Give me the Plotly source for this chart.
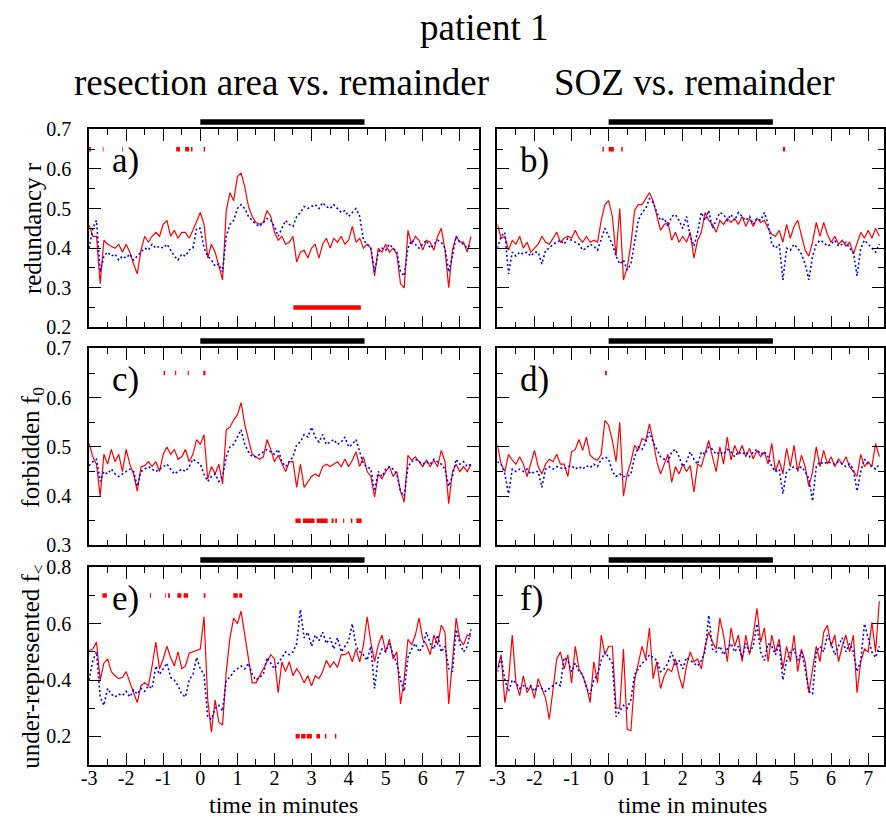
import numpy as np
import plotly.graph_objects as go

# ---------------- data ----------------
t = np.round(np.arange(-3.0, 7.35, 0.1), 1)  # time in minutes, 104 samples

a_red = [0.458, 0.43, 0.43, 0.31, 0.42, 0.41, 0.405, 0.40, 0.41, 0.39,
         0.41, 0.39, 0.36, 0.335, 0.395, 0.43, 0.415, 0.43, 0.44, 0.43,
         0.46, 0.47, 0.43, 0.445, 0.425, 0.44, 0.44, 0.425, 0.445, 0.47,
         0.49, 0.46, 0.375, 0.41, 0.39, 0.355, 0.32, 0.495, 0.54, 0.52,
         0.58, 0.59, 0.555, 0.505, 0.48, 0.465, 0.46, 0.465, 0.495, 0.48,
         0.44, 0.42, 0.43, 0.41, 0.415, 0.43, 0.365, 0.39, 0.395, 0.375,
         0.40, 0.41, 0.375, 0.41, 0.425, 0.40, 0.425, 0.415, 0.43, 0.41,
         0.42, 0.455, 0.415, 0.425, 0.40, 0.41, 0.40, 0.33, 0.40, 0.39,
         0.41, 0.39, 0.40, 0.385, 0.31, 0.30, 0.445, 0.41, 0.43, 0.42,
         0.395, 0.42, 0.415, 0.395, 0.43, 0.45, 0.395, 0.30, 0.395, 0.43,
         0.415, 0.415, 0.39, 0.43]
a_blue = [0.40, 0.45, 0.47, 0.34, 0.38, 0.39, 0.38, 0.385, 0.37, 0.38,
          0.375, 0.385, 0.37, 0.38, 0.39, 0.40, 0.395, 0.41, 0.40, 0.405,
          0.40, 0.41, 0.395, 0.38, 0.37, 0.385, 0.38, 0.395, 0.40, 0.45,
          0.45, 0.40, 0.38, 0.37, 0.355, 0.36, 0.34, 0.43, 0.46, 0.47,
          0.50, 0.51, 0.50, 0.48, 0.47, 0.46, 0.455, 0.465, 0.475, 0.47,
          0.455, 0.43, 0.45, 0.47, 0.46, 0.455, 0.48, 0.49, 0.505, 0.50,
          0.505, 0.51, 0.50, 0.515, 0.505, 0.50, 0.51, 0.50, 0.49, 0.495,
          0.48, 0.49, 0.50, 0.48, 0.42, 0.41, 0.40, 0.34, 0.39, 0.40,
          0.395, 0.41, 0.40, 0.39, 0.34, 0.33, 0.40, 0.42, 0.41, 0.40,
          0.41, 0.42, 0.40, 0.41, 0.42, 0.415, 0.40, 0.34, 0.38, 0.43,
          0.415, 0.41, 0.40, 0.41]

b_red = [0.46, 0.425, 0.43, 0.395, 0.42, 0.41, 0.43, 0.40, 0.415, 0.39,
         0.40, 0.41, 0.43, 0.415, 0.41, 0.425, 0.44, 0.415, 0.425, 0.43,
         0.425, 0.445, 0.425, 0.415, 0.43, 0.415, 0.42, 0.415, 0.47, 0.51,
         0.52, 0.48, 0.38, 0.50, 0.32, 0.35, 0.41, 0.495, 0.51, 0.51,
         0.525, 0.54, 0.52, 0.48, 0.445, 0.46, 0.465, 0.42, 0.44, 0.415,
         0.43, 0.415, 0.44, 0.375, 0.42, 0.44, 0.49, 0.47, 0.46, 0.44,
         0.47, 0.46, 0.475, 0.465, 0.475, 0.46, 0.48, 0.455, 0.475, 0.455,
         0.475, 0.465, 0.47, 0.45, 0.435, 0.43, 0.445, 0.415, 0.46, 0.425,
         0.455, 0.47, 0.435, 0.395, 0.38, 0.415, 0.465, 0.43, 0.465, 0.435,
         0.415, 0.43, 0.41, 0.42, 0.405, 0.415, 0.385, 0.41, 0.44, 0.425,
         0.445, 0.425, 0.45, 0.43]
b_blue = [0.40, 0.43, 0.44, 0.335, 0.39, 0.38, 0.39, 0.385, 0.39, 0.38,
          0.39, 0.39, 0.36, 0.395, 0.40, 0.41, 0.415, 0.42, 0.41, 0.425,
          0.42, 0.415, 0.41, 0.395, 0.40, 0.41, 0.405, 0.395, 0.42, 0.45,
          0.43, 0.41, 0.38, 0.36, 0.37, 0.345, 0.36, 0.42, 0.47, 0.49,
          0.50, 0.525, 0.515, 0.49, 0.47, 0.475, 0.455, 0.48, 0.485, 0.47,
          0.45, 0.48, 0.43, 0.405, 0.44, 0.49, 0.47, 0.495, 0.45, 0.47,
          0.49, 0.485, 0.47, 0.485, 0.47, 0.49, 0.48, 0.47, 0.48, 0.46,
          0.475, 0.47, 0.49, 0.46, 0.41, 0.40, 0.41, 0.32, 0.40, 0.395,
          0.41, 0.40, 0.385, 0.36, 0.32, 0.38, 0.41, 0.42, 0.415, 0.405,
          0.41, 0.42, 0.405, 0.41, 0.415, 0.40, 0.39, 0.33, 0.40, 0.42,
          0.41, 0.40, 0.39, 0.41]

c_red = [0.507, 0.48, 0.465, 0.40, 0.485, 0.465, 0.495, 0.47, 0.485, 0.45,
         0.495, 0.465, 0.445, 0.41, 0.46, 0.462, 0.47, 0.46, 0.47, 0.45,
         0.485, 0.50, 0.485, 0.495, 0.475, 0.48, 0.495, 0.47, 0.485, 0.515,
         0.505, 0.525, 0.435, 0.46, 0.445, 0.465, 0.425, 0.535, 0.54, 0.555,
         0.565, 0.59, 0.545, 0.515, 0.485, 0.48, 0.475, 0.48, 0.515, 0.495,
         0.47, 0.483, 0.465, 0.45, 0.47, 0.47, 0.418, 0.465, 0.418, 0.43,
         0.44, 0.445, 0.44, 0.46, 0.465, 0.46, 0.465, 0.47, 0.46, 0.475,
         0.46, 0.473, 0.49, 0.46, 0.48, 0.45, 0.44, 0.398, 0.445, 0.435,
         0.45, 0.46, 0.44, 0.45, 0.41, 0.388, 0.483, 0.473, 0.48, 0.47,
         0.46, 0.473, 0.46, 0.473, 0.46, 0.493, 0.47, 0.385, 0.45, 0.465,
         0.45, 0.46, 0.45, 0.465]
c_blue = [0.462, 0.47, 0.475, 0.43, 0.45, 0.445, 0.455, 0.445, 0.44, 0.445,
          0.45, 0.455, 0.45, 0.42, 0.45, 0.455, 0.46, 0.455, 0.45, 0.455,
          0.46, 0.465, 0.455, 0.445, 0.45, 0.455, 0.45, 0.46, 0.475, 0.47,
          0.465, 0.445, 0.43, 0.44, 0.445, 0.43, 0.44, 0.48, 0.50, 0.505,
          0.52, 0.535, 0.505, 0.49, 0.48, 0.48, 0.485, 0.49, 0.495, 0.49,
          0.485, 0.495, 0.47, 0.46, 0.47, 0.48, 0.505, 0.51, 0.525, 0.52,
          0.54, 0.52, 0.51, 0.525, 0.505, 0.51, 0.515, 0.505, 0.51, 0.52,
          0.50, 0.505, 0.515, 0.49, 0.465, 0.46, 0.455, 0.41, 0.45, 0.44,
          0.455, 0.46, 0.455, 0.445, 0.41, 0.40, 0.46, 0.47, 0.475, 0.47,
          0.465, 0.47, 0.465, 0.475, 0.47, 0.465, 0.455, 0.42, 0.44, 0.475,
          0.465, 0.47, 0.46, 0.465]

d_red = [0.503, 0.465, 0.45, 0.485, 0.473, 0.465, 0.48, 0.465, 0.44, 0.465,
         0.493, 0.46, 0.445, 0.465, 0.475, 0.47, 0.485, 0.465, 0.465, 0.44,
         0.49, 0.495, 0.515, 0.493, 0.52, 0.483, 0.476, 0.473, 0.485, 0.554,
         0.544, 0.513, 0.47, 0.55, 0.40, 0.445, 0.47, 0.503, 0.493, 0.517,
         0.513, 0.547, 0.513, 0.47, 0.445, 0.465, 0.485, 0.428, 0.46, 0.445,
         0.465, 0.45, 0.462, 0.408, 0.465, 0.46, 0.485, 0.513, 0.48, 0.45,
         0.50, 0.465, 0.52, 0.473, 0.503, 0.485, 0.503, 0.48, 0.497, 0.476,
         0.493, 0.48, 0.49, 0.465, 0.507, 0.45, 0.473, 0.445, 0.497, 0.46,
         0.503, 0.45, 0.483, 0.46, 0.42, 0.45, 0.50, 0.46, 0.493, 0.465,
         0.48, 0.46, 0.476, 0.465, 0.48, 0.46, 0.45, 0.44, 0.485, 0.46,
         0.47, 0.46, 0.507, 0.48]
d_blue = [0.47, 0.465, 0.445, 0.405, 0.455, 0.45, 0.455, 0.45, 0.455, 0.445,
          0.45, 0.45, 0.418, 0.455, 0.46, 0.455, 0.46, 0.458, 0.455, 0.46,
          0.462, 0.455, 0.46, 0.455, 0.462, 0.458, 0.465, 0.46, 0.475, 0.48,
          0.475, 0.45, 0.44, 0.445, 0.44, 0.44, 0.445, 0.48, 0.50, 0.495,
          0.51, 0.53, 0.51, 0.495, 0.48, 0.475, 0.47, 0.49, 0.495, 0.48,
          0.46, 0.47, 0.49, 0.475, 0.465, 0.49, 0.485, 0.50, 0.495, 0.485,
          0.49, 0.485, 0.495, 0.49, 0.48, 0.49, 0.485, 0.49, 0.48, 0.49,
          0.495, 0.485, 0.49, 0.48, 0.46, 0.45, 0.455, 0.405, 0.45, 0.455,
          0.46, 0.455, 0.46, 0.45, 0.435, 0.39, 0.46, 0.47, 0.465, 0.47,
          0.468, 0.465, 0.47, 0.465, 0.46, 0.465, 0.455, 0.41, 0.45, 0.475,
          0.465, 0.46, 0.455, 0.465]

e_red = [0.505, 0.51, 0.535, 0.40, 0.46, 0.475, 0.43, 0.415, 0.405, 0.41,
         0.43, 0.39, 0.355, 0.32, 0.38, 0.39, 0.38, 0.45, 0.535, 0.44,
         0.475, 0.52, 0.48, 0.45, 0.50, 0.44, 0.45, 0.495, 0.50, 0.505,
         0.51, 0.625, 0.33, 0.215, 0.33, 0.25, 0.24, 0.43, 0.55, 0.62,
         0.60, 0.645, 0.56, 0.47, 0.39, 0.39, 0.415, 0.44, 0.465, 0.49,
         0.475, 0.355, 0.465, 0.43, 0.465, 0.415, 0.44, 0.42, 0.39, 0.415,
         0.38, 0.415, 0.405, 0.43, 0.47, 0.445, 0.465, 0.445, 0.49, 0.49,
         0.50, 0.465, 0.51, 0.465, 0.525, 0.625, 0.535, 0.465, 0.525, 0.56,
         0.50, 0.545, 0.475, 0.50, 0.315, 0.405, 0.545, 0.525, 0.56, 0.62,
         0.545, 0.525, 0.49, 0.56, 0.525, 0.595, 0.57, 0.315, 0.465, 0.62,
         0.545, 0.525, 0.56, 0.555]
e_blue = [0.40, 0.47, 0.50, 0.34, 0.31, 0.37, 0.35, 0.34, 0.35, 0.345,
          0.36, 0.34, 0.365, 0.35, 0.37, 0.36, 0.38, 0.37, 0.45, 0.42,
          0.44, 0.46, 0.41, 0.40, 0.38, 0.35, 0.34, 0.40, 0.42, 0.48,
          0.44, 0.42, 0.27, 0.26, 0.30, 0.31, 0.29, 0.40, 0.41, 0.43,
          0.44, 0.45, 0.44, 0.46, 0.42, 0.40, 0.41, 0.42, 0.48, 0.46,
          0.44, 0.46, 0.48, 0.50, 0.49, 0.50, 0.53, 0.65, 0.55, 0.57,
          0.52, 0.56, 0.54, 0.57, 0.53, 0.55, 0.51, 0.55, 0.50, 0.52,
          0.54, 0.60, 0.52, 0.50, 0.49, 0.47, 0.52, 0.37, 0.48, 0.51,
          0.50, 0.53, 0.49, 0.46, 0.40, 0.36, 0.48, 0.51, 0.53, 0.50,
          0.52, 0.57, 0.53, 0.51, 0.56, 0.50, 0.52, 0.44, 0.43, 0.58,
          0.53, 0.50, 0.52, 0.58]

f_red = [0.44, 0.49, 0.32, 0.40, 0.56, 0.39, 0.345, 0.415, 0.355, 0.38,
         0.335, 0.405, 0.37, 0.335, 0.26, 0.37, 0.475, 0.50, 0.44, 0.49,
         0.39, 0.52, 0.44, 0.415, 0.38, 0.32, 0.465, 0.39, 0.56, 0.49,
         0.52, 0.52, 0.30, 0.30, 0.51, 0.225, 0.22, 0.40, 0.465, 0.52,
         0.475, 0.585, 0.405, 0.465, 0.37, 0.415, 0.44, 0.43, 0.475, 0.415,
         0.37, 0.45, 0.50, 0.465, 0.475, 0.44, 0.52, 0.57, 0.535, 0.51,
         0.62, 0.56, 0.465, 0.585, 0.52, 0.56, 0.465, 0.56, 0.49, 0.56,
         0.655, 0.535, 0.585, 0.465, 0.56, 0.50, 0.545, 0.44, 0.52, 0.465,
         0.56, 0.43, 0.51, 0.465, 0.355, 0.44, 0.52, 0.465, 0.57, 0.595,
         0.52, 0.56, 0.465, 0.52, 0.56, 0.50, 0.56, 0.355, 0.465, 0.51,
         0.50, 0.605, 0.50, 0.68]
f_blue = [0.43, 0.48, 0.40, 0.36, 0.40, 0.39, 0.37, 0.38, 0.37, 0.38,
          0.36, 0.38, 0.37, 0.36, 0.37, 0.38, 0.39, 0.38, 0.48, 0.47,
          0.43, 0.46, 0.43, 0.42, 0.37, 0.35, 0.40, 0.42, 0.47, 0.50,
          0.48, 0.46, 0.27, 0.29, 0.31, 0.30, 0.33, 0.42, 0.44, 0.46,
          0.47, 0.49, 0.48, 0.47, 0.43, 0.44, 0.46, 0.50, 0.45, 0.47,
          0.44, 0.48, 0.47, 0.46, 0.45, 0.47, 0.50, 0.63, 0.51, 0.50,
          0.52, 0.49, 0.51, 0.53, 0.50, 0.52, 0.48, 0.53, 0.50, 0.52,
          0.60, 0.50, 0.47, 0.53, 0.52, 0.49, 0.53, 0.40, 0.47, 0.50,
          0.51, 0.47, 0.50, 0.44, 0.36, 0.35, 0.50, 0.52, 0.50, 0.56,
          0.53, 0.49, 0.52, 0.55, 0.50, 0.53, 0.50, 0.43, 0.47, 0.60,
          0.55, 0.50, 0.48, 0.52]

# seizure period (black bar above each panel), in minutes
seizure = (0.0, 4.43)

# significance markers: (start, end) intervals in minutes and their level
sig_a_top = [(-3.0, -2.95), (-2.63, -2.61), (-2.11, -2.09), (-0.65, -0.55),
             (-0.41, -0.30), (-0.25, -0.21), (0.09, 0.13)]
sig_a_bot = [(2.51, 4.33)]
sig_b_top = [(-0.17, -0.13), (0.0, 0.14), (0.34, 0.38), (4.70, 4.76)]
sig_c_top = [(-0.99, -0.95), (-0.68, -0.65), (-0.34, -0.31), (0.08, 0.14)]
sig_c_bot = [(2.565, 2.707), (2.768, 3.08), (3.141, 3.435), (3.541, 3.595),
             (3.64, 3.685), (3.853, 3.88), (4.06, 4.10), (4.21, 4.35)]
sig_d_top = [(-0.10, -0.05)]
sig_e_top = [(-2.64, -2.52), (-1.36, -1.33), (-0.95, -0.93), (-0.87, -0.82),
             (-0.62, -0.51), (-0.45, -0.33), (0.09, 0.14), (0.89, 1.01), (1.05, 1.13)]
sig_e_bot = [(2.57, 2.68), (2.72, 2.84), (2.87, 3.01), (3.13, 3.23),
             (3.36, 3.40), (3.63, 3.67)]

panel_labels = ["a)", "b)", "c)", "d)", "e)", "f)"]
ytitles = ["redundancy r", "forbidden f<sub>0</sub>", "under-represented f<sub>&lt;</sub>"]
col_titles = ["resection area vs. remainder", "SOZ vs. remainder"]
main_title = "patient 1"
xtitle = "time in minutes"

x_ticks = [-3, -2, -1, 0, 1, 2, 3, 4, 5, 6, 7]
x_ticktext = ["-3", "-2", "-1", "0", "1", "2", "3", "4", "5", "6", "7"]
y_ranges = [[0.2, 0.7], [0.3, 0.7], [0.1, 0.8]]
y_ticks = [[0.2, 0.3, 0.4, 0.5, 0.6, 0.7], [0.3, 0.4, 0.5, 0.6, 0.7], [0.2, 0.4, 0.6, 0.8]]
y_ticktext = [["0.2", "0.3", "0.4", "0.5", "0.6", "0.7"],
              ["0.3", "0.4", "0.5", "0.6", "0.7"],
              ["0.2", "0.4", "0.6", "0.8"]]
y_minor = [0.05, 0.05, 0.1]

# ---------------- layout geometry ----------------
W, H = 886, 823
FONT = "Liberation Serif"
# the captured picture shows the page slightly squeezed vertically;
# convert a wanted picture row into a paper coordinate.
V_OFF, V_SCALE = 10.7, 0.973


def py(row):
    return 1 - ((row - V_OFF) / V_SCALE) / H


col_px = [(82, 476), (495, 886)]
row_px = [(129, 327), (348, 545), (567, 764)]
px_per_min = 37.5

panels = [
    (0, 0, a_red, a_blue, [(sig_a_top, 0.65), (sig_a_bot, 0.25)]),
    (0, 1, b_red, b_blue, [(sig_b_top, 0.65)]),
    (1, 0, c_red, c_blue, [(sig_c_top, 0.65), (sig_c_bot, 0.35)]),
    (1, 1, d_red, d_blue, [(sig_d_top, 0.65)]),
    (2, 0, e_red, e_blue, [(sig_e_top, 0.70), (sig_e_bot, 0.20)]),
    (2, 1, f_red, f_blue, []),
]

fig = go.Figure()
layout = dict(width=W, height=H, margin=dict(l=0, r=0, t=0, b=0),
              paper_bgcolor="white", plot_bgcolor="white", showlegend=False,
              font=dict(family=FONT, size=20, color="black"))
annotations = []
shapes = []

for k, (r, c, red, blue, sigs) in enumerate(panels):
    i = k + 1
    xa = "x" if i == 1 else f"x{i}"
    ya = "y" if i == 1 else f"y{i}"
    x0p, x1p = col_px[c]
    y0p, y1p = row_px[r]
    xdom = [x0p / W, x1p / W]
    ydom = [py(y1p), py(y0p)]
    xr = [-3, -3 + (x1p - x0p) / px_per_min]

    fig.add_trace(go.Scatter(x=t, y=red, mode="lines", xaxis=xa, yaxis=ya,
                             line=dict(color="#ff0000", width=1.2), hoverinfo="skip"))
    fig.add_trace(go.Scatter(x=t, y=blue, mode="lines", xaxis=xa, yaxis=ya,
                             line=dict(color="#0000ff", width=1.6, dash="2px,2.5px"),
                             hoverinfo="skip"))
    for intervals, level in sigs:
        xs, ys = [], []
        for s, e in intervals:
            xs += [s, e, None]
            ys += [level, level, None]
        fig.add_trace(go.Scatter(x=xs, y=ys, mode="lines", xaxis=xa, yaxis=ya,
                                 line=dict(color="#ff0000", width=4.5), hoverinfo="skip"))

    axis_common = dict(showline=True, linecolor="black", linewidth=1.5, mirror="ticks",
                       ticks="inside", ticklen=12, tickwidth=1.3, tickcolor="black",
                       showgrid=False, zeroline=False, fixedrange=True,
                       tickfont=dict(family=FONT, size=20, color="black"))
    layout["xaxis" if i == 1 else f"xaxis{i}"] = dict(
        axis_common, domain=xdom, range=xr, anchor=ya, ticklabelstandoff=-5,
        tickmode="array", tickvals=x_ticks, ticktext=x_ticktext,
        showticklabels=(r == 2),
        minor=dict(ticks="inside", ticklen=6, tickwidth=1.3, tickcolor="black",
                   tick0=-3, dtick=0.5, showgrid=False))
    layout["yaxis" if i == 1 else f"yaxis{i}"] = dict(
        axis_common, domain=ydom, range=y_ranges[r], anchor=xa, ticklabelstandoff=12,
        tickmode="array", tickvals=y_ticks[r], ticktext=y_ticktext[r],
        showticklabels=(c == 0),
        minor=dict(ticks="inside", ticklen=6, tickwidth=1.3, tickcolor="black",
                   tick0=y_ranges[r][0], dtick=y_minor[r], showgrid=False))

    # seizure bar above the panel
    shapes.append(dict(type="rect", xref=xa, yref="paper",
                       x0=seizure[0], x1=seizure[1],
                       y0=py(y0p - 4.6), y1=py(y0p - 10.1),
                       fillcolor="black", line=dict(width=0), layer="above"))

    # panel label
    annotations.append(dict(text=panel_labels[k], xref="paper", yref="paper",
                            x=(x0p + 21) / W, y=py(y0p + 31),
                            xanchor="left", yanchor="middle", showarrow=False,
                            font=dict(family=FONT, size=35, color="black")))

# y axis titles
for r in range(3):
    y0p, y1p = row_px[r]
    annotations.append(dict(text=ytitles[r], xref="paper", yref="paper",
                            x=25 / W, y=py((y0p + y1p) / 2), textangle=-90,
                            xanchor="center", yanchor="middle", showarrow=False,
                            font=dict(family=FONT, size=25, color="black")))
# x axis titles (as low as the page allows)
for c in range(2):
    x0p, x1p = col_px[c]
    cx = (x0p + 197) / W
    annotations.append(dict(text=xtitle, xref="paper", yref="paper",
                            x=cx, y=1 - 815.5 / H, xanchor="center", yanchor="middle",
                            showarrow=False, font=dict(family=FONT, size=24, color="black")))
# column titles and main title
annotations.append(dict(text=col_titles[0], xref="paper", yref="paper", x=277 / W,
                        y=py(82), xanchor="center", yanchor="middle", showarrow=False,
                        font=dict(family=FONT, size=37, color="black")))
annotations.append(dict(text=col_titles[1], xref="paper", yref="paper", x=694 / W,
                        y=py(82), xanchor="center", yanchor="middle", showarrow=False,
                        font=dict(family=FONT, size=37, color="black")))
annotations.append(dict(text=main_title, xref="paper", yref="paper", x=481 / W,
                        y=py(27), xanchor="center", yanchor="middle", showarrow=False,
                        font=dict(family=FONT, size=37, color="black")))

layout["annotations"] = annotations
layout["shapes"] = shapes
fig.update_layout(**layout)
fig.write_html("out.html")
